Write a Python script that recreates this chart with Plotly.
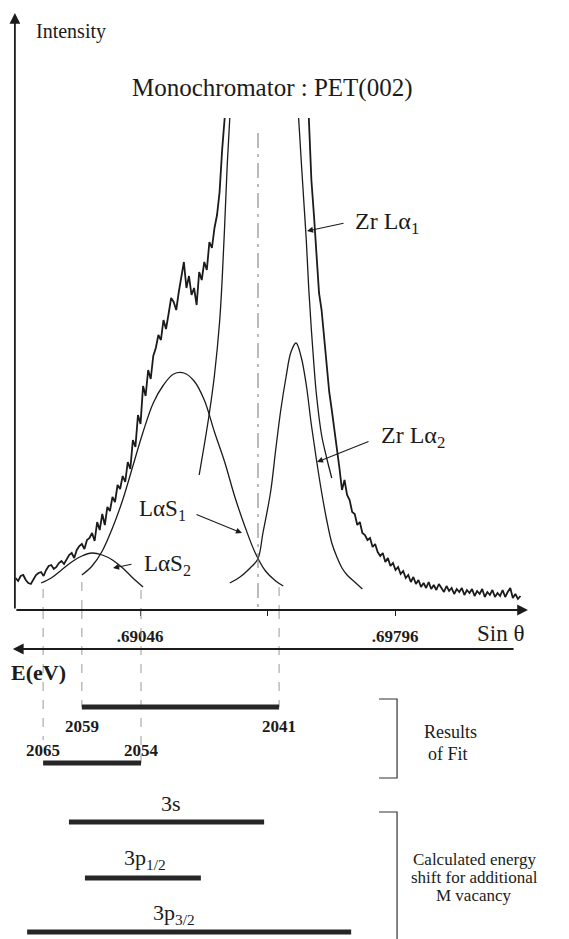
import plotly.graph_objects as go

W, H = 569, 939
FONT = "Liberation Serif"
INK = "#1b1b1b"

# ---------------- data ----------------
# scan calibration: sin(theta) = S0 + DS * channel
S0, DS = 0.68680, 0.000075

# measured spectrum (arb. intensity), low-angle wing and high-angle wing
meas_left_ch = list(range(0, 83))
meas_left_I = [32, 29, 34, 35, 30, 27, 26, 30, 35, 37,
               38, 34, 40, 44, 45, 41, 43, 47, 49, 46,
               51, 55, 57, 52, 60, 64, 66, 61, 70, 72,
               77, 69, 88, 80, 96, 85, 103, 99, 113, 108,
               125, 121, 134, 128, 148, 141, 170, 163, 195, 186,
               224, 214, 240, 231, 254, 262, 275, 270, 290, 281,
               296, 312, 308, 300, 318, 335, 348, 322, 334, 315,
               322, 305, 338, 330, 348, 340, 368, 362, 382, 395,
               418, 460, 492]
meas_right_ch = list(range(115, 199))
meas_right_I = [492, 430, 395, 355, 317, 300, 270, 248, 218, 200,
                182, 160, 142, 120, 130, 115, 110, 98, 96, 85,
                88, 77, 75, 70, 72, 63, 66, 58, 54, 57,
                48, 52, 44, 47, 40, 43, 36, 39, 32, 35,
                28, 33, 26, 30, 23, 27, 22, 28, 21, 25,
                20, 26, 22, 18, 24, 19, 22, 16, 21, 18,
                22, 15, 20, 17, 21, 14, 19, 16, 21, 13,
                18, 15, 20, 13, 17, 14, 20, 13, 18, 22,
                12, 16, 11, 14]

# fitted components
las2_ch = [10, 14, 18, 22, 26, 30, 34, 38, 42, 46, 50]
las2_I = [27, 32, 40, 48, 54, 57, 55, 50, 42, 32, 23]
las1_ch = [26, 30, 34, 38, 42, 46, 50, 54, 58, 62, 66, 70, 74, 78, 82, 86, 90, 94, 98, 102, 105]
las1_I = [35, 44, 59, 82, 110, 144, 178, 207, 225, 236, 237, 229, 210, 178, 148, 113, 83, 57, 39, 29, 24]
la2_ch = [84, 88, 92, 95, 97, 100, 102, 104, 106, 108, 110, 112, 114, 116, 118, 120, 122, 124, 126, 128, 130, 133, 136]
la2_I = [27, 33, 42, 51, 77, 118, 160, 200, 232, 258, 267, 253, 225, 185, 150, 118, 90, 67, 53, 42, 35, 28, 21]
la1_left_ch = [72, 74, 76, 78, 80, 81, 82, 83, 84]
la1_left_I = [135, 165, 197, 235, 288, 330, 385, 445, 492]
la1_right_ch = [111, 112, 113, 114, 115, 116, 117, 118, 120, 122, 124]
la1_right_I = [492, 450, 410, 370, 320, 280, 245, 215, 175, 152, 132]

# sin(theta) axis ticks
tick_vals = [0.69046, 0.69421, 0.69796]
tick_text = [".69046", "", ".69796"]
ref_line_s = 0.69393

# results of fit: energy limits (eV) and their sin(theta) positions
fit_E_lo = [2059, 2065]
fit_E_hi = [2041, 2054]
fit_s_lo = [0.68875, 0.68761]
fit_s_hi = [0.69455, 0.69049]
fit_edge_I = [[28, 23], [21, 20]]          # where the guide lines start
# calculated energy shift for an additional M vacancy (sin theta span)
calc_names = ["3s", "3p<sub>1/2</sub>", "3p<sub>3/2</sub>"]
calc_s_lo = [0.68837, 0.68884, 0.68714]
calc_s_hi = [0.69411, 0.69225, 0.69667]

# ---------------- helpers ----------------
def s(ch):
    return [S0 + DS * c for c in ch]

def P(x, y):
    return x / W, 1 - y / H

fig = go.Figure()

def line(x, y, width=1.3, dash=None, color=INK, yaxis="y", shape="linear"):
    fig.add_trace(go.Scatter(x=x, y=y, mode="lines", yaxis=yaxis, hoverinfo="skip",
                             line=dict(color=color, width=width, dash=dash, shape=shape),
                             showlegend=False))

# measured spectrum
line(s(meas_left_ch), meas_left_I, width=1.8)
line(s(meas_right_ch), meas_right_I, width=1.8)
# fitted curves
for ch, I in [(las2_ch, las2_I), (las1_ch, las1_I), (la2_ch, la2_I),
              (la1_left_ch, la1_left_I), (la1_right_ch, la1_right_I)]:
    line(s(ch), I, width=1.3, shape="spline")

# central reference line
line([ref_line_s, ref_line_s], [477, 0], width=1, dash="longdashdot", color="#777777")

# rows of the lower scheme (y2 units, downward)
ROW_E = 39
ROW_FIT = [97, 153]
ROW_CALC = [212, 268, 322]
guide_bottom = [[97, 97], [130, 153]]
label_dy = [20, -12]

# guide lines for fit edges
for k in range(2):
    for j, sx in enumerate([fit_s_lo[k], fit_s_hi[k]]):
        line([sx, sx], [fit_edge_I[k][j], 0], width=1, dash="dash", color="#9a9a9a")
        line([sx, sx], [0, guide_bottom[k][j]], width=1, dash="dash", color="#9a9a9a", yaxis="y2")

# result bars
for k in range(2):
    line([fit_s_lo[k], fit_s_hi[k]], [ROW_FIT[k]] * 2, width=5, color="#262626", yaxis="y2")
for k in range(3):
    line([calc_s_lo[k], calc_s_hi[k]], [ROW_CALC[k]] * 2, width=5, color="#262626", yaxis="y2")

# brackets
BR_IN, BR_OUT = 0.69749, 0.69802
line([BR_IN, BR_OUT, BR_OUT, BR_IN], [89, 89, 168, 168], width=1.2, color="#333", yaxis="y2")
line([BR_IN, BR_OUT, BR_OUT], [202, 202, 329], width=1.2, color="#333", yaxis="y2")

ann = []

def text(t, x, y, size=18, xanchor="center", bold=False, color=INK):
    xx, yy = P(x, y)
    if bold:
        t = "<b>" + t + "</b>"
    ann.append(dict(text=t, x=xx, y=yy, xref="paper", yref="paper", showarrow=False,
                    xanchor=xanchor, yanchor="middle",
                    font=dict(family=FONT, size=size, color=color)))

def pointer(tip, tail):
    xx, yy = P(*tip)
    ann.append(dict(text="", x=xx, y=yy, xref="paper", yref="paper", showarrow=True,
                    ax=tail[0] - tip[0], ay=tail[1] - tip[1],
                    arrowhead=2, arrowsize=1.1, arrowwidth=1.1, arrowcolor=INK))

# axes arrows (data coordinates)
X_AX0, X_AX1 = 0.68678, 0.70187
ann.append(dict(text="", x=X_AX0, y=597, ax=X_AX0, ay=0, xref="x", yref="y", axref="x", ayref="y",
                showarrow=True, arrowhead=2, arrowsize=1.2, arrowwidth=1.8, arrowcolor=INK))
ann.append(dict(text="", x=X_AX1, y=0, ax=X_AX0, ay=0, xref="x", yref="y", axref="x", ayref="y",
                showarrow=True, arrowhead=2, arrowsize=1.2, arrowwidth=1.8, arrowcolor=INK))
ann.append(dict(text="", x=0.68672, y=ROW_E, ax=0.70149, ay=ROW_E, xref="x", yref="y2",
                axref="x", ayref="y2",
                showarrow=True, arrowhead=2, arrowsize=1.2, arrowwidth=1.8, arrowcolor=INK))

# labels
text("Intensity", 34, 32, size=20, xanchor="left")
text("Monochromator : PET(002)", 272, 88, size=25)
text("Zr Lα<sub>1</sub>", 353, 223, size=24, xanchor="left")
pointer((307, 231), (345, 223))
text("Zr Lα<sub>2</sub>", 379, 437, size=24, xanchor="left")
pointer((317, 462), (370, 441))
text("LαS<sub>1</sub>", 137, 510, size=23, xanchor="left")
pointer((242, 533), (195, 514))
text("LαS<sub>2</sub>", 142, 565, size=23, xanchor="left")
pointer((113, 568), (133, 564))
text("Sin θ", 500, 633, size=23)
text("E(eV)", 9, 672, size=22, xanchor="left", bold=True)

# energy numbers at the bar ends
for k in range(2):
    for sx, E in [(fit_s_lo[k], fit_E_lo[k]), (fit_s_hi[k], fit_E_hi[k])]:
        ann.append(dict(text="<b>%d</b>" % E, x=sx, y=ROW_FIT[k] + label_dy[k],
                        xref="x", yref="y2", showarrow=False,
                        font=dict(family=FONT, size=17, color=INK)))

text("Results", 450, 732, size=18)
text("of Fit", 448, 754, size=18)
text("3s", 171, 803, size=22)
text("3p<sub>1/2</sub>", 145, 859, size=22)
text("3p<sub>3/2</sub>", 174, 914, size=22)
text("Calculated energy", 474, 859, size=17)
text("shift for additional", 474, 877, size=17)
text("M vacancy", 474, 895, size=17)

fig.update_layout(
    width=W, height=H, margin=dict(l=0, r=0, t=0, b=0),
    paper_bgcolor="white", plot_bgcolor="white",
    xaxis=dict(range=[0.686342, 0.703077], showgrid=False, zeroline=False, showline=False,
               tickvals=tick_vals, ticktext=tick_text, ticks="outside", ticklen=5,
               tickcolor=INK, tickwidth=1.2, anchor="y", ticklabelstandoff=6,
               tickfont=dict(family=FONT, size=17, color=INK, weight="bold")),
    yaxis=dict(domain=[329 / H, 1], range=[0, 610], visible=False),
    yaxis2=dict(domain=[0, 329 / H], range=[329, 0], visible=False, anchor="x"),
    annotations=ann,
)

fig.write_html("out.html")
